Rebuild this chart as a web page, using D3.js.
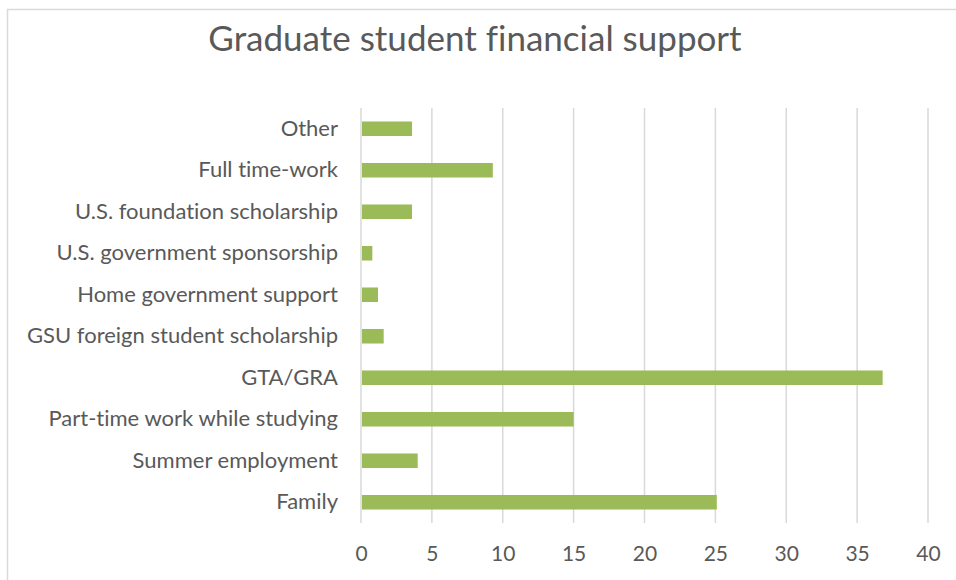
<!DOCTYPE html>
<html>
<head>
<meta charset="utf-8">
<script src="https://cdn.jsdelivr.net/npm/d3@7"></script>
<style>
  html, body { margin: 0; padding: 0; background: #fff; }
  svg { display: block; }
  text { font-family: Lato, "Open Sans", sans-serif; fill: #595959;
         font-variant-ligatures: none; font-feature-settings: "liga" 0, "clig" 0; }
</style>
</head>
<body>
<svg id="chart" width="956" height="580"></svg>
<script>
// Sources of financial support (top to bottom as shown)
const categories = [
  "Other",
  "Full time-work",
  "U.S. foundation scholarship",
  "U.S. government sponsorship",
  "Home government support",
  "GSU foreign student scholarship",
  "GTA/GRA",
  "Part-time work while studying",
  "Summer employment",
  "Family"
];
const values = [3.6, 9.3, 3.6, 0.8, 1.2, 1.6, 36.8, 15.0, 4.0, 25.1];
const xTicks = [0, 5, 10, 15, 20, 25, 30, 35, 40];
const title = "Graduate student financial support";

const svg = d3.select("#chart");
const W = 956, H = 580;
const margin = { top: 108, right: 28, bottom: 57, left: 361 };

// Chart frame
svg.append("rect")
  .attr("x", 7.5).attr("y", 9.5)
  .attr("width", W).attr("height", H)
  .attr("fill", "#fff").attr("stroke", "#d9d9d9").attr("stroke-width", 1.5);

const x = d3.scaleLinear().domain([0, 40]).range([margin.left, W - margin.right]);
const y = d3.scaleBand().domain(categories)
  .range([margin.top, H - margin.bottom])
  .paddingInner(0.65).paddingOuter(0.325);

// Vertical gridlines
svg.append("g").selectAll("line").data(xTicks).join("line")
  .attr("x1", d => x(d)).attr("x2", d => x(d))
  .attr("y1", margin.top).attr("y2", H - margin.bottom)
  .attr("stroke", "#d9d9d9").attr("stroke-width", 1.5);

// Bars
svg.append("g").selectAll("rect").data(categories).join("rect")
  .attr("x", x(0) + 1)
  .attr("y", d => y(d))
  .attr("width", (d, i) => x(values[i]) - x(0) - 1)
  .attr("height", y.bandwidth())
  .attr("fill", "#9bbb59");

// Category axis
const yAxis = svg.append("g")
  .attr("transform", `translate(${margin.left},0)`)
  .call(d3.axisLeft(y).tickSize(0).tickPadding(23));
yAxis.select(".domain").remove();
yAxis.selectAll("text")
  .style("font-family", "Lato, 'Open Sans', sans-serif")
  .style("font-size", "22px")
  .attr("fill", "#595959");

// Value axis
const xAxis = svg.append("g")
  .attr("transform", `translate(0,${H - margin.bottom})`)
  .call(d3.axisBottom(x).tickValues(xTicks).tickSize(0).tickPadding(23));
xAxis.select(".domain").remove();
xAxis.selectAll("text")
  .style("font-family", "Lato, 'Open Sans', sans-serif")
  .style("font-size", "21px")
  .attr("fill", "#595959");

// Title
svg.append("text")
  .attr("x", 475).attr("y", 51)
  .attr("text-anchor", "middle")
  .style("font-size", "35px")
  .text(title);
</script>
</body>
</html>
